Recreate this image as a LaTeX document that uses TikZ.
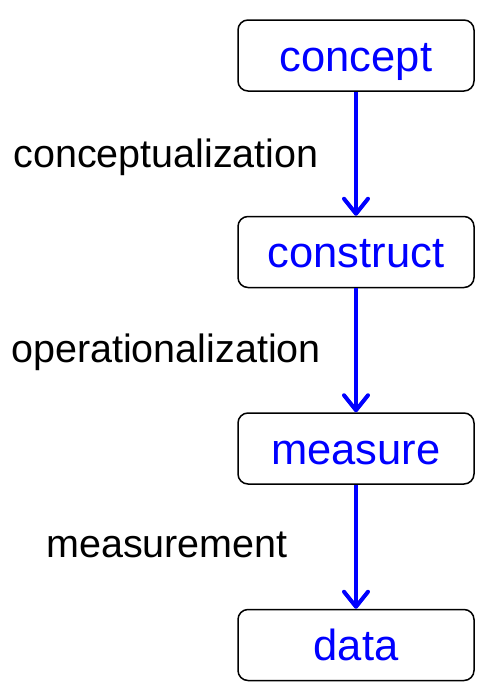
\documentclass[tikz,border=0pt]{standalone}
\usepackage{fontspec}
\setmainfont{Liberation Sans}
\usetikzlibrary{positioning}
\usetikzlibrary{arrows.meta}

\tikzset{
  stage/.style={draw, rounded corners=10pt, line width=1.5pt,
    minimum width=236pt, minimum height=71pt, inner sep=0pt,
    text height=31pt, text depth=0pt,
    text=blue, font=\fontsize{43.5}{50}\selectfont},
  flow/.style={blue, line width=4pt,
    -{Straight Barb[length=15pt, width=24pt, line cap=round, line join=round]}},
  lbl/.style={text height=28pt, text depth=0pt,
    font=\fontsize{39.5}{46}\selectfont}
}

\begin{document}
\begin{tikzpicture}[x=1pt, y=-1pt]

    \useasboundingbox (0,0) rectangle (488,697);

    % the four stages
    \node[stage] (concept) at (356,55.5) {concept};
    \node[stage, below=124pt of concept] (construct) {construct};
    \node[stage, below=124pt of construct] (measure) {measure};
    \node[stage, below=124pt of measure] (data) {data};

    % steps between them
    \draw[flow] (concept) -- (construct);
    \draw[flow] (construct) -- (measure);
    \draw[flow] (measure) -- (data);

    % step names
    \node[lbl] (conceptualization) at (166,153) {conceptualization};
    \node[lbl] (operationalization) at (166,348) {operationalization};
    \node[lbl] (measurement) at (167,543) {measurement};

\end{tikzpicture}
\end{document}
